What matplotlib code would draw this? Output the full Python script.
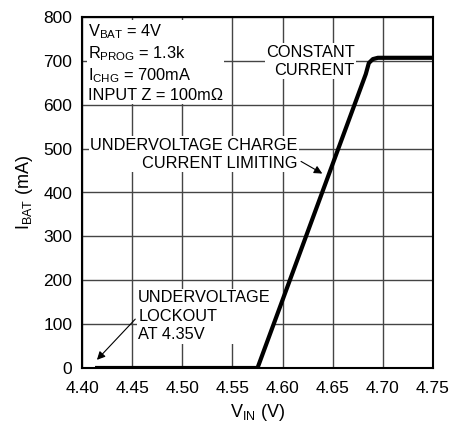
import matplotlib
matplotlib.use('Agg')
import matplotlib.pyplot as plt

fam = 'Liberation Sans'
plt.rcParams['font.family'] = [fam, 'DejaVu Sans']
plt.rcParams['mathtext.fontset'] = 'custom'
plt.rcParams['mathtext.rm'] = fam

# curve
vin = [4.413, 4.575, 4.683, 4.686, 4.690, 4.695, 4.75]
ibat = [0, 0, 670, 695, 704, 707, 707]

xticks = [4.40, 4.45, 4.50, 4.55, 4.60, 4.65, 4.70, 4.75]
yticks = [0, 100, 200, 300, 400, 500, 600, 700, 800]

fig = plt.figure(figsize=(4.53, 4.23), dpi=100)
ax = fig.add_axes([82/453, 1-368/423, 351/453, 351/423])
ax.set_xlim(4.40, 4.75)
ax.set_ylim(0, 800)
ax.set_xticks(xticks)
ax.set_xticklabels(['%.2f' % t for t in xticks])
ax.set_yticks(yticks)
ax.tick_params(length=0, labelsize=12.5)
ax.tick_params(axis='x', pad=9)
ax.tick_params(axis='y', pad=7)
ax.grid(True, color='#444444', lw=1)
ax.set_axisbelow(True)
for s in ax.spines.values():
    s.set_linewidth(1.5)

ax.plot(vin, ibat, color='black', lw=3, solid_capstyle='butt', zorder=5)

ax.set_xlabel('V$_{\\mathrm{IN}}$ (V)', fontsize=13, labelpad=5)
ax.set_ylabel('I$_{\\mathrm{BAT}}$ (mA)', fontsize=13, labelpad=6)

fs = 11.8
wb = dict(facecolor='white', edgecolor='none', pad=1)
ax.text(4.406, 787, 'V$_{\\mathrm{BAT}}$ = 4V\nR$_{\\mathrm{PROG}}$ = 1.3k\nI$_{\\mathrm{CHG}}$ = 700mA\nINPUT Z = 100m\u03a9',
        fontsize=fs, va='top', ha='left', linespacing=1.22, bbox=wb, zorder=3)
ax.text(4.672, 699, 'CONSTANT\nCURRENT', fontsize=fs, ha='right', va='center',
        linespacing=1.3, bbox=wb, zorder=3)
ax.text(4.615, 487, 'UNDERVOLTAGE CHARGE\nCURRENT LIMITING', fontsize=fs, ha='right',
        va='center', linespacing=1.3, bbox=wb, zorder=3)
ax.text(4.456, 118, 'UNDERVOLTAGE\nLOCKOUT\nAT 4.35V', fontsize=fs, ha='left',
        va='center', linespacing=1.3, bbox=wb, zorder=3)

ax.annotate('', xy=(4.642, 440), xytext=(4.616, 474),
            arrowprops=dict(arrowstyle='-|>', color='black', lw=0.8, mutation_scale=12), zorder=6)
ax.annotate('', xy=(4.413, 14), xytext=(4.455, 116),
            arrowprops=dict(arrowstyle='-|>', color='black', lw=0.8, mutation_scale=12), zorder=6)

fig.savefig('out.png', dpi=100)
